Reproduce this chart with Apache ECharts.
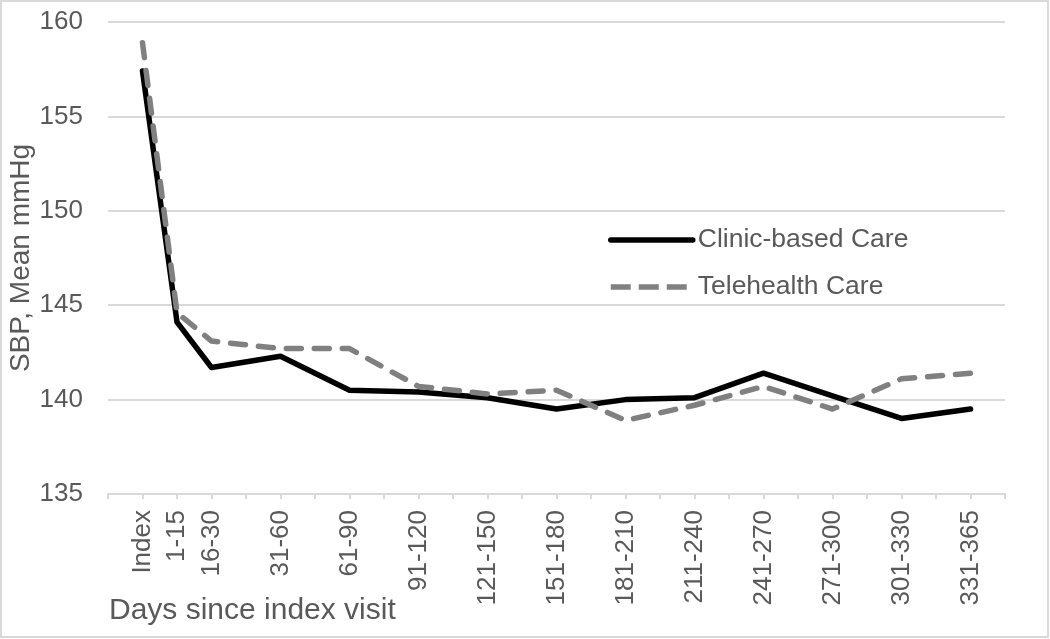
<!DOCTYPE html>
<html>
<head>
<meta charset="utf-8">
<script src="https://cdn.jsdelivr.net/npm/echarts@6/dist/echarts.min.js"></script>
<style>
html,body{margin:0;padding:0;background:#fff;}
#chart{width:1050px;height:639px;}
</style>
</head>
<body>
<div id="chart"></div>
<script>
const categories = ['Index','1-15','16-30','31-60','61-90','91-120','121-150','151-180','181-210','211-240','241-270','271-300','301-330','331-365'];
const clinicSBP = [157.4, 144.1, 141.7, 142.3, 140.5, 140.4, 140.1, 139.5, 140.0, 140.1, 141.4, 140.2, 139.0, 139.5];
const telehealthSBP = [158.9, 144.6, 143.1, 142.7, 142.7, 140.7, 140.3, 140.5, 138.9, 139.7, 140.7, 139.5, 141.1, 141.4];
const yTicks = {min: 135, max: 160, step: 5};
const seriesNames = ['Clinic-based Care', 'Telehealth Care'];

// Axis slots: half-width slots for the first bins, then every other slot
const SLOT_COUNT = 27;
const slotOf = i => (i < 3 ? i + 1 : 2 * i - 1);
const slotLabels = new Array(SLOT_COUNT).fill('');
categories.forEach((c, i) => { slotLabels[slotOf(i)] = c; });
function toSlots(vals) {
  const out = new Array(SLOT_COUNT).fill(null);
  vals.forEach((v, i) => { out[slotOf(i)] = v; });
  return out;
}

const FONT = '"Liberation Sans", Arial, sans-serif';
const TXT = '#595959';
const GRID = '#d9d9d9';
const clinicLine = {color: '#000000', width: 5.5, cap: 'round', join: 'round'};
const teleLine = {color: '#808080', width: 5.5, type: [15, 13], cap: 'round', join: 'round'};

const chart = echarts.init(document.getElementById('chart'), null, {renderer: 'canvas'});
chart.setOption({
  animation: false,
  backgroundColor: '#fff',
  title: {
    text: 'Days since index visit',
    left: 109, top: 596,
    padding: 0,
    textStyle: {fontFamily: FONT, fontSize: 30, fontWeight: 'normal', color: TXT}
  },
  graphic: [{
    type: 'rect',
    shape: {x: 1, y: 1, width: 1047, height: 636},
    style: {fill: 'none', stroke: GRID, lineWidth: 2},
    silent: true
  }],
  legend: {
    orient: 'vertical',
    left: 608, top: 225,
    padding: 0,
    itemWidth: 82, itemHeight: 20, itemGap: 17,
    itemStyle: {opacity: 0},
    textStyle: {fontFamily: FONT, fontSize: 26.5, color: TXT, lineHeight: 30},
    data: [
      {name: seriesNames[0], lineStyle: {width: 5.5, color: '#000000', cap: 'round'}},
      {name: seriesNames[1], lineStyle: {width: 5.5, color: '#808080', type: [20, 8], cap: 'butt'}}
    ]
  },
  grid: {left: 108, right: 45, top: 22, bottom: 145, outerBoundsMode: 'none', containLabel: false},
  xAxis: {
    type: 'category',
    boundaryGap: false,
    data: slotLabels,
    axisLine: {lineStyle: {color: GRID, width: 2}},
    axisTick: {show: true, interval: 0, length: 5, lineStyle: {color: GRID, width: 2}},
    axisLabel: {interval: 0, rotate: 90, margin: 16, fontFamily: FONT, fontSize: 26, color: TXT},
    splitLine: {show: false}
  },
  yAxis: {
    type: 'value',
    min: yTicks.min, max: yTicks.max, interval: yTicks.step,
    name: 'SBP, Mean mmHg',
    nameLocation: 'middle',
    nameRotate: 90,
    nameGap: 73,
    nameMoveOverlap: false,
    nameTextStyle: {fontFamily: FONT, fontSize: 28, color: TXT},
    axisLine: {show: false},
    axisTick: {show: false},
    axisLabel: {margin: 25, fontFamily: FONT, fontSize: 26, color: TXT},
    splitLine: {lineStyle: {color: GRID, width: 2}}
  },
  series: [
    {
      name: seriesNames[0],
      type: 'line',
      data: toSlots(clinicSBP),
      connectNulls: true,
      symbol: 'none',
      lineStyle: clinicLine,
      itemStyle: {color: '#000000'},
      z: 3
    },
    {
      name: seriesNames[1],
      type: 'line',
      data: toSlots(telehealthSBP),
      connectNulls: true,
      symbol: 'none',
      lineStyle: teleLine,
      itemStyle: {color: '#808080'},
      z: 4
    }
  ]
});
</script>
</body>
</html>
